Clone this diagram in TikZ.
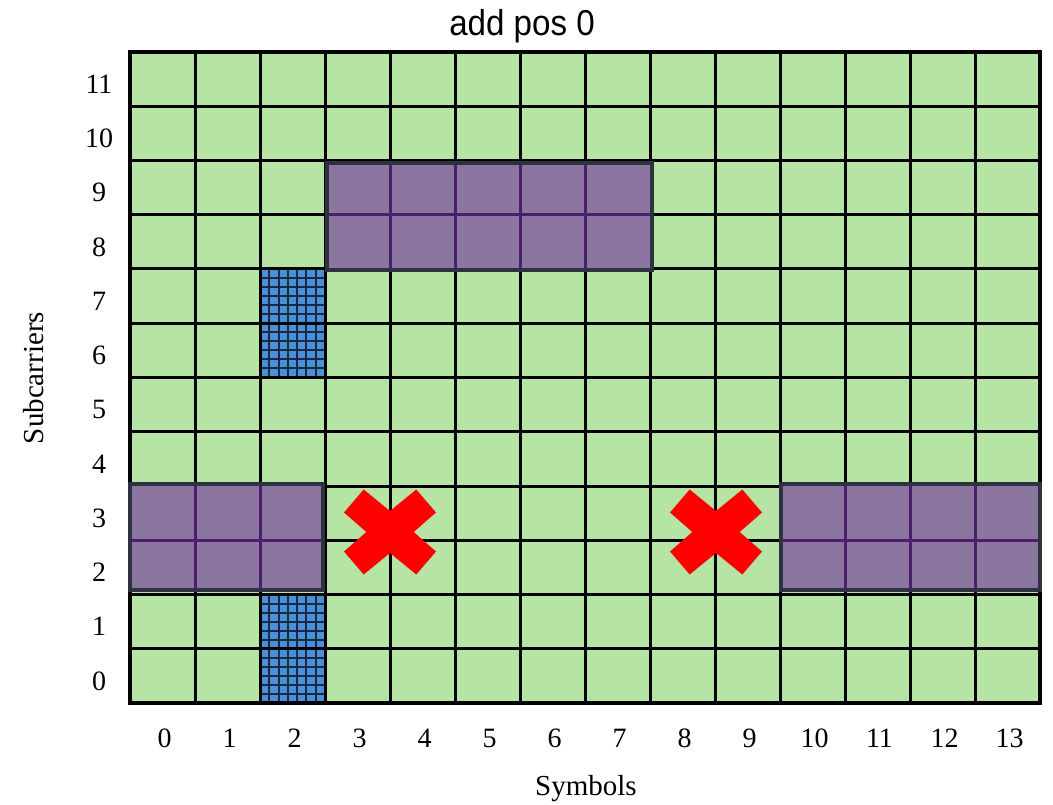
\documentclass[tikz,border=0pt]{standalone}
\usepackage{fontspec}
\setmainfont{Liberation Serif}
\newfontfamily\titlefont{Liberation Sans}
\definecolor{cellgreen}{HTML}{B6E4A5}
\definecolor{boxfill}{HTML}{8B76A0}
\definecolor{boxborder}{HTML}{2E3140}
\definecolor{boxinner}{HTML}{4B1F6B}
\definecolor{hatchblue}{HTML}{4A90D9}
\definecolor{hatchline}{HTML}{1A2A45}
\definecolor{xred}{HTML}{FF0000}
\tikzset{
  gridline/.style={line width=3pt, black},
  outerline/.style={line width=4pt, black},
  hatchstroke/.style={line width=2pt, hatchline},
  purplebox/.style={fill=boxfill, draw=none},
  boxinnerline/.style={line width=3pt, boxinner},
  boxframe/.style={line width=4pt, boxborder, line join=miter},
  xmark/.style={fill=xred, draw=none},
  ticklabel/.style={font=\fontsize{28}{28}\selectfont, inner sep=0pt},
  axislabel/.style={font=\fontsize{29}{29}\selectfont, inner sep=0pt},
  titlelabel/.style={font=\titlefont\fontsize{36}{36}\selectfont, inner sep=0pt, xscale=0.92}
}
\begin{document}
\begin{tikzpicture}[x=1pt,y=-1pt]
\useasboundingbox[fill=white] (0,0) rectangle (1053,805);
% background cells
\fill[cellgreen] (130,52) rectangle (1040,703);
% hatched cells (column 2, rows 0-1 and 6-7)
\foreach \yt/\yb in {594.5/703, 269/377.5}{
  \fill[hatchblue] (260,\yt) rectangle (325,\yb);
  \foreach \k in {1,...,6}{
    \draw[hatchstroke] ({260+\k*65/7},\yt) -- ({260+\k*65/7},\yb);
  }
  \foreach \k in {1,...,11}{
    \draw[hatchstroke] (260,{\yt+\k*108.5/12}) -- (325,{\yt+\k*108.5/12});
  }
}
% grid lines
\foreach \c in {1,...,13}{
  \draw[gridline] ({130+65*\c},52) -- ({130+65*\c},703);
}
\foreach \r in {1,...,11}{
  \draw[gridline] (130,{703-54.25*\r}) -- (1040,{703-54.25*\r});
}
\draw[outerline] (130,52) rectangle (1040,703);
% purple boxes
% top box: cols 3-7, rows 8-9
\fill[purplebox] (327,163) rectangle (652,270);
\foreach \xx in {390,455,520,585}{ \draw[boxinnerline] (\xx,163) -- (\xx,270); }
\draw[boxinnerline] (327,214.75) -- (652,214.75);
\draw[boxframe] (327,163) rectangle (652,270);
% left box: cols 0-2, rows 2-3
\fill[purplebox] (130,484) rectangle (323,590);
\foreach \xx in {195,260}{ \draw[boxinnerline] (\xx,484) -- (\xx,590); }
\draw[boxinnerline] (130,540) -- (323,540);
\draw[boxframe] (130,484) rectangle (323,590);
% right box: cols 10-13, rows 2-3
\fill[purplebox] (781,484) rectangle (1040,590);
\foreach \xx in {845,910,975}{ \draw[boxinnerline] (\xx,484) -- (\xx,590); }
\draw[boxinnerline] (781,540) -- (1040,540);
\draw[boxframe] (781,484) rectangle (1040,590);
% red crosses
\foreach \cx in {390,716}{
  \fill[xmark] ({\cx-46},512.5) -- ({\cx-26.3},489.5) -- ({\cx},511) -- ({\cx+26.3},489.5)
    -- ({\cx+46},512.5) -- ({\cx+23.7},532) -- ({\cx+46},551.5) -- ({\cx+26.3},574.5)
    -- ({\cx},553) -- ({\cx-26.3},574.5) -- ({\cx-46},551.5) -- ({\cx-23.7},532) -- cycle;
}
% tick labels
\foreach \r in {0,...,11}{
  \node[ticklabel] (ylab\r) at (99,{703-54.25*(\r+0.5)+5}) {\r};
}
\foreach \c in {0,...,13}{
  \node[ticklabel] (xlab\c) at ({130+65*(\c+0.5)+2},738) {\c};
}
% axis labels and title
\node[axislabel] (xaxis) at (586,789) {Symbols};
\node[axislabel, rotate=90] (yaxis) at (34,378) {Subcarriers};
\node[titlelabel] (title) at (522,26) {add pos 0};
\end{tikzpicture}
\end{document}
